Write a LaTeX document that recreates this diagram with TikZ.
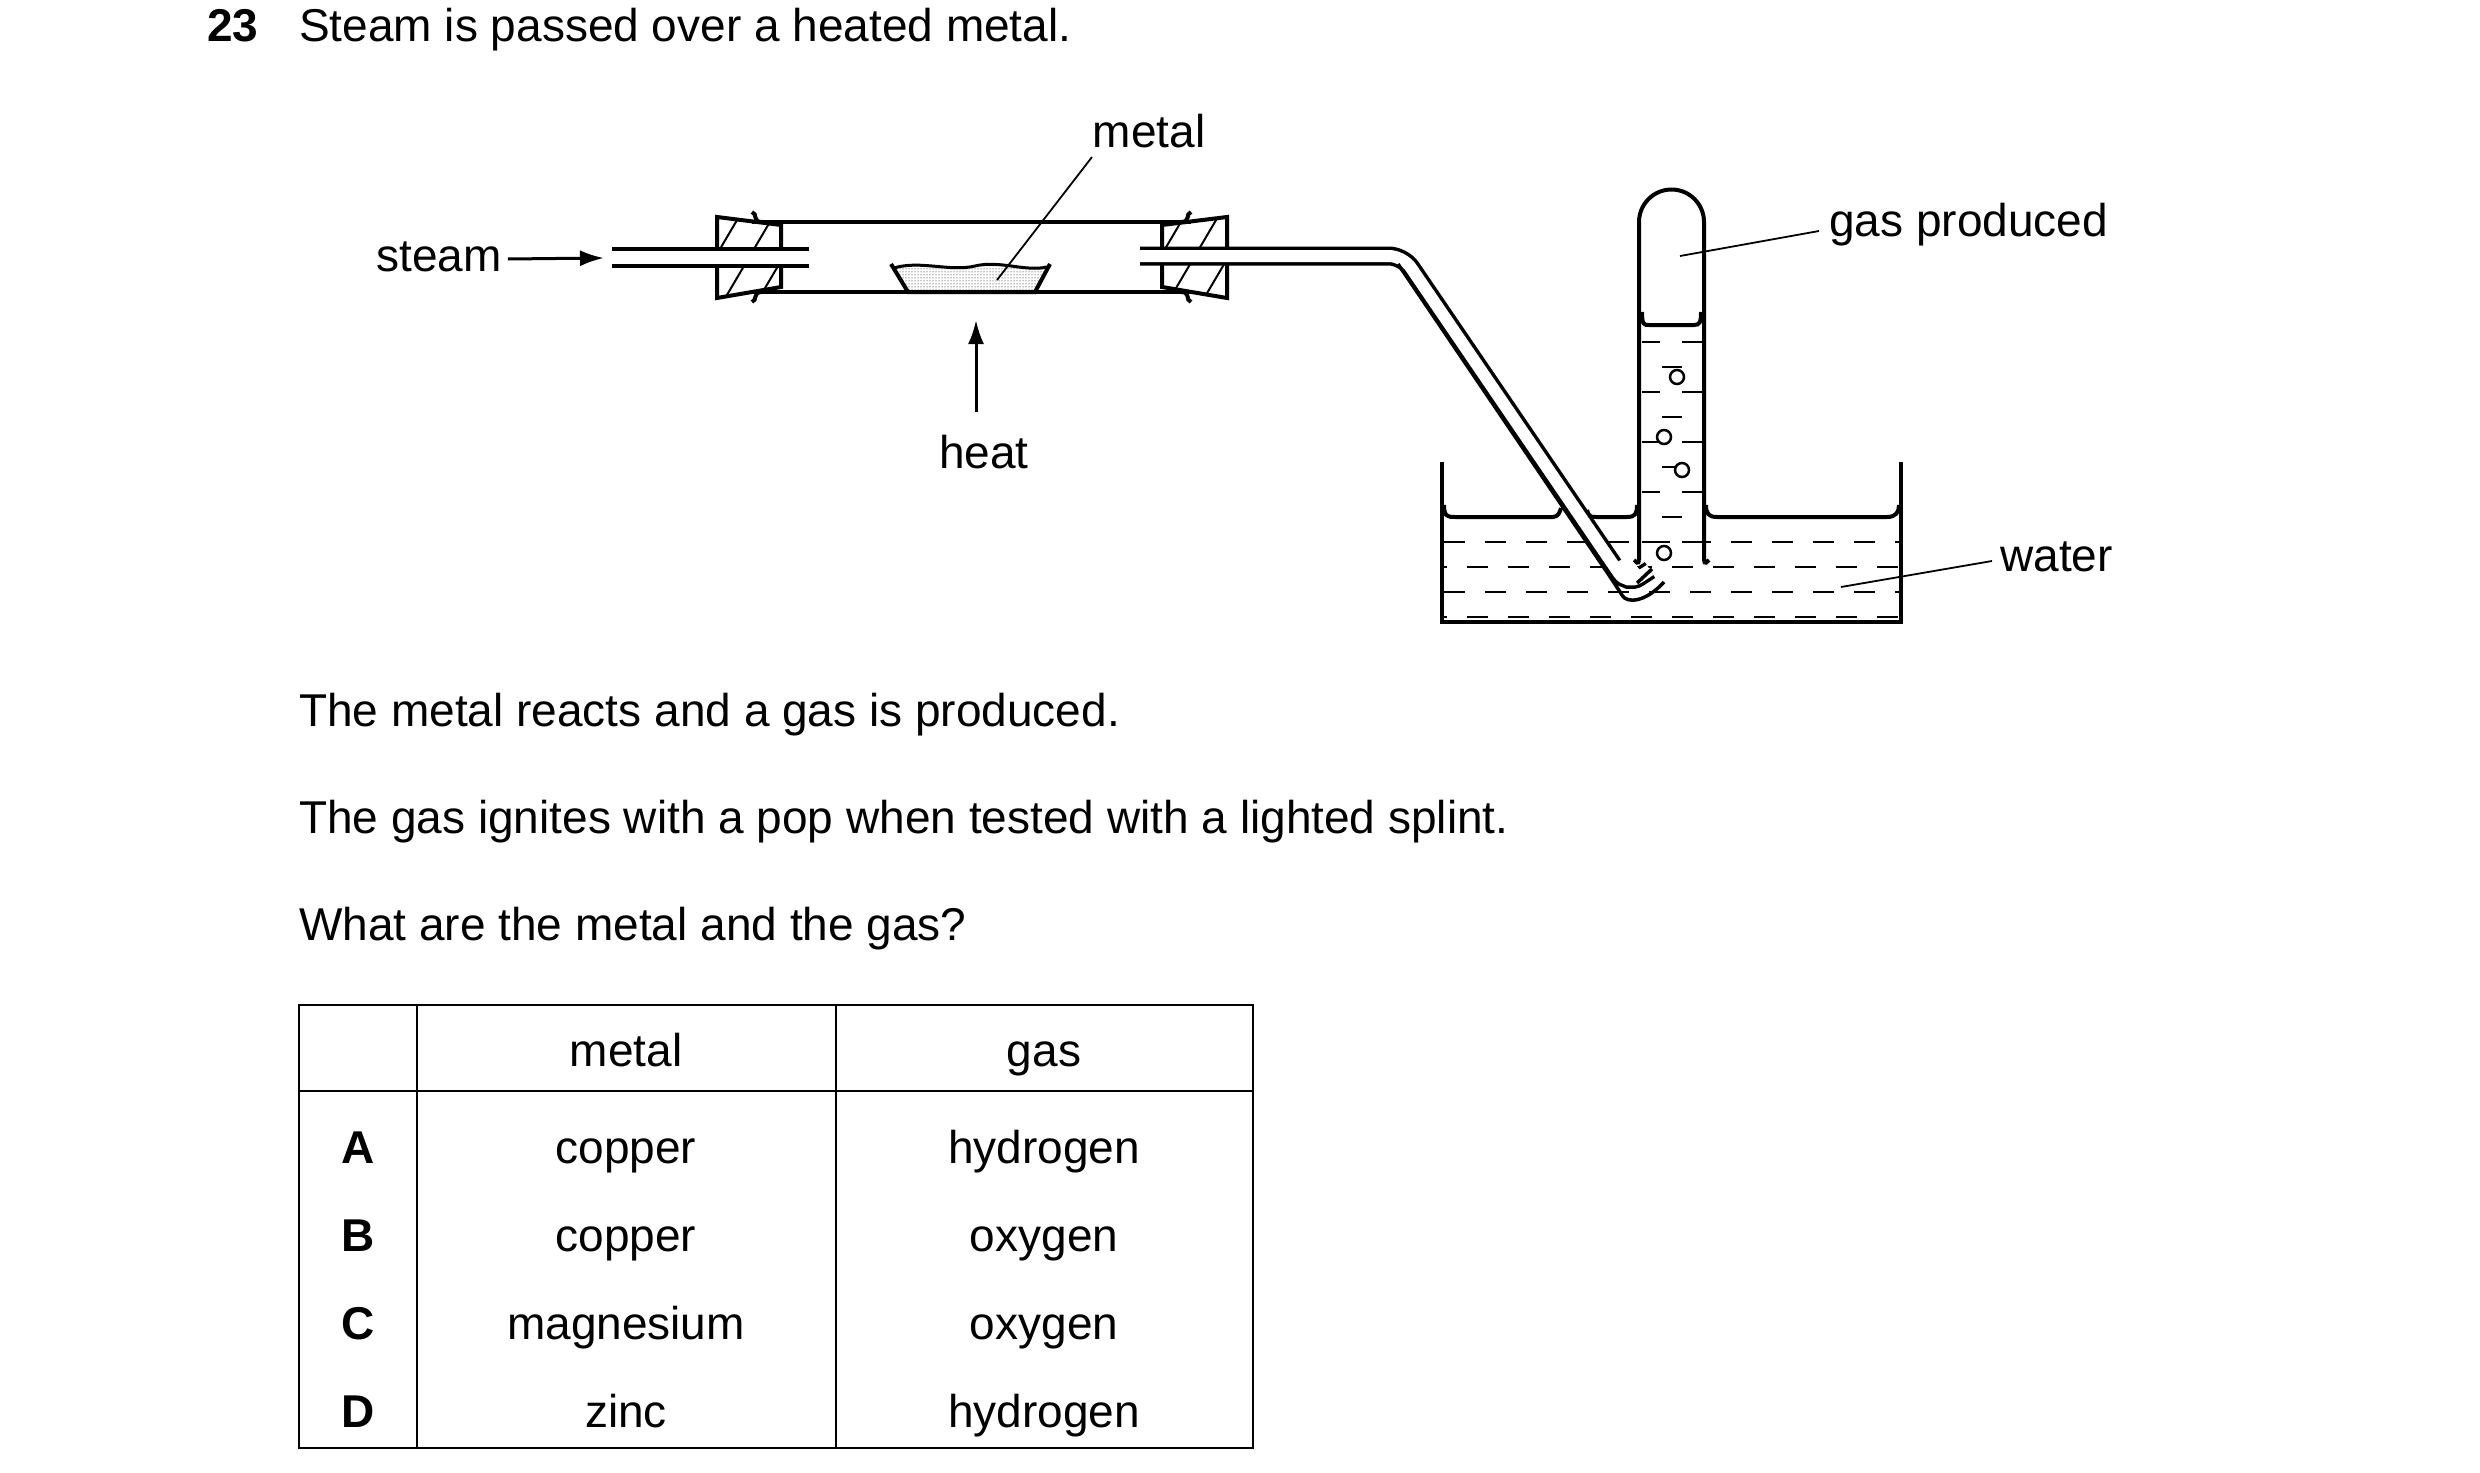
\documentclass[tikz,border=0pt]{standalone}
\usepackage{fontspec}
\setmainfont{Liberation Sans}
\usetikzlibrary{patterns,arrows.meta}
\begin{document}
\begin{tikzpicture}[x=1pt,y=-1pt,
  txt/.style={font=\fontsize{46}{52}\selectfont,inner sep=0pt},
  cell/.style={txt,anchor=base},
  thick/.style={line width=4pt},
  thin/.style={line width=2pt},
  lead/.style={line width=1.8pt},
  arr/.style={line width=3pt,-{Latex[length=24pt,width=16pt]}}]
\useasboundingbox[fill=white] (0,0) rectangle (2480,1472);
% header text
\node[txt,font=\fontsize{46}{52}\selectfont\bfseries,anchor=base west] (num) at (207,42) {23};
\node[txt,anchor=base west] (t0) at (299,42) {Steam is passed over a heated metal.};
% stoppers
\draw[thick] (717,217) -- (781,225) -- (781,287) -- (717,298) -- cycle;
\draw[thick] (1227,217) -- (1162,225) -- (1162,287) -- (1227,298) -- cycle;
\begin{scope}
\clip (717,217) -- (781,225) -- (781,287) -- (717,298) -- cycle;
\foreach \k in {0,34,68,102} {\draw[thin] (690+\k,300) -- (740+\k,215);}
\end{scope}
\begin{scope}
\clip (1227,217) -- (1162,225) -- (1162,287) -- (1227,298) -- cycle;
\foreach \k in {0,34,68,102} {\draw[thin] (1135+\k,300) -- (1185+\k,215);}
\end{scope}
\fill[white] (715,251) rectangle (800,264);
\fill[white] (1140,250) rectangle (1230,262);
% combustion tube
\draw[thick] (752,222) -- (1191,222);
\draw[thick] (752,292) -- (1191,292);
\draw[thick] (752,212) .. controls (758,214) and (752,222) .. (762,222);
\draw[thick] (752,302) .. controls (758,300) and (752,292) .. (762,292);
\draw[thick] (1191,212) .. controls (1185,214) and (1191,222) .. (1181,222);
\draw[thick] (1191,302) .. controls (1185,300) and (1191,292) .. (1181,292);
% inlet tube
\draw[thick] (612,249) -- (809,249);
\draw[thick] (612,266) -- (809,266);
% boat
\path[pattern=dots] (894,268) .. controls (920,260) and (950,272) .. (975,266) .. controls (1000,260) and (1025,272) .. (1047,267) -- (1034,290) -- (909,290) -- cycle;
\draw[thick] (891,264) -- (908,292) -- (1035,292) -- (1050,264);
\draw[line width=3pt] (894,268) .. controls (920,260) and (950,272) .. (975,266) .. controls (1000,260) and (1025,272) .. (1047,267);
\node[txt] (metal) at (1149,131) {metal};
\coordinate (mt) at (997,280);
\draw[lead] (1092,157) -- (mt);
% heat
\node[txt] (heat) at (984,452) {heat};
\coordinate (hb) at (976,412);
\coordinate (ht) at (976,320);
\draw[arr] (hb) -- (ht);
% steam
\node[txt] (steam) at (439,257) {steam};
\coordinate (st) at (604,258);
\draw[arr] (steam.east) ++(6,2) -- (st);
% trough water dashes
\begin{scope}
\clip (1444,520) rectangle (1899,621);
\foreach \yy/\o in {542/0,567/18,592/0,617/18}
  \draw[line width=2.5pt,dash pattern=on 21pt off 20pt,dash phase=\o pt] (1444,\yy) -- (1899,\yy);
\end{scope}
% gas tube water dashes
\foreach \yy in {342,392,442,492,542}{\draw[line width=2.5pt] (1642,\yy) -- (1660,\yy); \draw[line width=2.5pt] (1682,\yy) -- (1702,\yy);}
\foreach \yy in {367,417,467,517}{\draw[line width=2.5pt] (1662,\yy) -- (1682,\yy);}
\foreach \bx/\by in {1677/377,1664/437,1682/470,1664/553}{\draw[line width=2.5pt,fill=white] (\bx,\by) circle (7);}
% trough
\draw[thick] (1442,462) -- (1442,622) -- (1901,622) -- (1901,462);
\draw[thick] (1444,505) .. controls (1444,517) and (1448,517) .. (1455,517) -- (1553,517) .. controls (1558,517) and (1560,512) .. (1561,508);
\draw[thick] (1587,510) .. controls (1589,517) and (1591,517) .. (1596,517) -- (1627,517) .. controls (1635,517) and (1637,514) .. (1637,505);
\draw[thick] (1706,505) .. controls (1706,514) and (1709,517) .. (1717,517) -- (1887,517) .. controls (1896,517) and (1899,512) .. (1899,505);
% gas tube
\draw[thick] (1639,560) .. controls (1639,565) and (1635,562) .. (1634,560);
\draw[thick] (1639,560) -- (1639,222) arc (180:360:32.5) -- (1704,560) .. controls (1704,565) and (1708,562) .. (1709,560);
\draw[thick] (1642,312) .. controls (1642,325) and (1644,325) .. (1649,325) -- (1694,325) .. controls (1700,325) and (1701,322) .. (1701,312);
% delivery tube
\draw[line width=3.5pt,double=white,double distance=12pt,rounded corners=14pt] (1140,256) -- (1403,256) -- (1627,585) -- (1650,570);
\fill[white] (1610,566) -- (1625,578) -- (1640,570) -- (1628,556) -- cycle;
\draw[line width=3.5pt,rounded corners=14pt] (1398,264) -- (1615,584) .. controls (1627,603) and (1645,603) .. (1664,582);
\draw[line width=3.5pt] (1637,583) -- (1652,569);
% labels
\node[txt,anchor=west] (gas) at (1829,225) {gas produced};
\coordinate (gp) at (1680,256);
\draw[lead] (gas.west) ++(-10,6) -- (gp);
\node[txt,anchor=west] (water) at (2000,557) {water};
\coordinate (wp) at (1841,587);
\draw[lead] (water.west) ++(-8,4) -- (wp);
% paragraphs
\node[txt,anchor=base west] (p1) at (299,726) {The metal reacts and a gas is produced.};
\node[txt,anchor=base west] (p2) at (299,833) {The gas ignites with a pop when tested with a lighted splint.};
\node[txt,anchor=base west] (p3) at (299,940) {What are the metal and the gas?};
% table
\draw[line width=2.2pt] (299,1005) rectangle (1253,1448);
\draw[line width=2.2pt] (299,1091) -- (1253,1091);
\draw[line width=2.2pt] (417,1005) -- (417,1448);
\draw[line width=2.2pt] (836,1005) -- (836,1448);
\node[cell] (h1) at (626,1066) {metal};
\node[cell] (h2) at (1044,1066) {gas};
\foreach \L/\m/\g/\yy in {A/copper/hydrogen/1163,B/copper/oxygen/1251,C/magnesium/oxygen/1339,D/zinc/hydrogen/1427}{
  \node[cell,font=\fontsize{46}{52}\selectfont\bfseries] at (358,\yy) {\L};
  \node[cell] at (626,\yy) {\m};
  \node[cell] at (1044,\yy) {\g};
}
\end{tikzpicture}
\end{document}
